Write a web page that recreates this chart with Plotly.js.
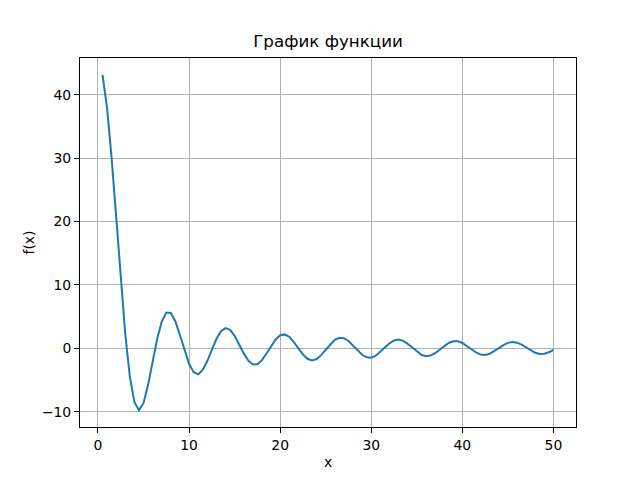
<!DOCTYPE html>
<html>
<head>
<meta charset="utf-8">
<script src="https://cdn.plot.ly/plotly-3.0.1.min.js"></script>
<style>html,body{margin:0;padding:0;background:#fff;}#chart{width:640px;height:480px;}</style>
</head>
<body>
<div id="chart"></div>
<script>
const xValues = [0.5,1,1.5,2,2.5,3,3.5,4,4.5,5,5.5,6,6.5,7,7.5,8,8.5,9,9.5,10,
  10.5,11,11.5,12,12.5,13,13.5,14,14.5,15,15.5,16,16.5,17,17.5,18,18.5,19,19.5,20,
  20.5,21,21.5,22,22.5,23,23.5,24,24.5,25,25.5,26,26.5,27,27.5,28,28.5,29,29.5,30,
  30.5,31,31.5,32,32.5,33,33.5,34,34.5,35,35.5,36,36.5,37,37.5,38,38.5,39,39.5,40,
  40.5,41,41.5,42,42.5,43,43.5,44,44.5,45,45.5,46,46.5,47,47.5,48,48.5,49,49.5,50];
const fValues = [43.148,37.866,29.925,20.459,10.772,2.117,-4.510,-8.514,-9.775,-8.630,
  -5.773,-2.096,1.489,4.224,5.628,5.565,4.227,2.061,-0.356,-2.448,
  -3.770,-4.091,-3.427,-2.012,-0.239,1.454,2.679,3.184,2.901,1.951,
  0.599,-0.810,-1.942,-2.545,-2.526,-1.877,-0.828,0.355,1.397,2.054,
  2.188,1.793,0.983,-0.018,-0.974,-1.656,-1.911,-1.698,-1.084,-0.238,
  0.632,1.320,1.662,1.594,1.145,0.435,-0.353,-1.030,-1.435,-1.482,
  -1.171,-0.587,0.120,0.775,1.223,1.364,1.171,0.700,0.075,-0.551,
  -1.024,-1.240,-1.149,-0.783,-0.237,0.351,0.840,1.112,1.116,0.838,
  0.368,-0.174,-0.664,-0.982,-1.054,-0.870,-0.478,0.018,0.500,0.851,
  0.988,0.882,0.563,0.118,-0.347,-0.720,-0.910,-0.876,-0.631,-0.236];
const chartTitle = "График функции";
const xLabel = "x";
const yLabel = "f(x)";

const xmin = Math.min(...xValues), xmax = Math.max(...xValues);
const ymin = Math.min(...fValues), ymax = Math.max(...fValues);
const xpad = (xmax - xmin) * 0.05, ypad = (ymax - ymin) * 0.05;

const font = {family: "DejaVu Sans", size: 13.9, color: "#000"};
const axisCommon = {
  showline: true, mirror: true, linecolor: "#000", linewidth: 1,
  ticks: "outside", ticklen: 5, tickwidth: 1, tickcolor: "#000",
  showgrid: true, gridcolor: "#b0b0b0", gridwidth: 1,
  zeroline: false, dtick: 10, tick0: 0,
  tickfont: font, automargin: false
};

Plotly.newPlot("chart", [{
  x: xValues, y: fValues, type: "scatter", mode: "lines",
  line: {color: "#1f77b4", width: 2}
}], {
  width: 640, height: 480,
  margin: {l: 80, r: 64, t: 58, b: 53},
  paper_bgcolor: "#fff", plot_bgcolor: "#fff",
  font: font,
  showlegend: false,
  title: {text: chartTitle, font: {family: "DejaVu Sans", size: 16.7, color: "#000"},
          x: 0.5, xref: "paper", xanchor: "center", y: 1 - 41/480, yref: "container", yanchor: "middle"},
  xaxis: Object.assign({}, axisCommon, {range: [xmin - xpad, xmax + xpad],
    title: {text: xLabel, font: font, standoff: 5}}),
  yaxis: Object.assign({}, axisCommon, {range: [ymin - ypad, ymax + ypad],
    title: {text: yLabel, font: font, standoff: 4}})
}, {displayModeBar: false, staticPlot: true});
</script>
</body>
</html>
